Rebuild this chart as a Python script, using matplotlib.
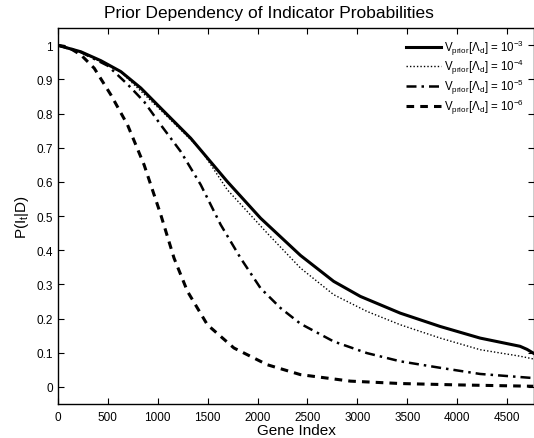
import matplotlib
matplotlib.use("Agg")
import matplotlib.pyplot as plt

plt.rcParams['font.family'] = ['Liberation Sans', 'DejaVu Sans']
plt.rcParams['mathtext.fontset'] = 'custom'
plt.rcParams['mathtext.rm'] = 'Liberation Sans'
plt.rcParams['mathtext.it'] = 'Liberation Sans'
plt.rcParams['mathtext.default'] = 'regular'

# curves (gene index, probability)
x_e3 = [0, 230, 430, 630, 830, 1030, 1330, 1697, 2030, 2430, 2763, 3030, 3430, 3830, 4230, 4630, 4700, 4763]
p_e3 = [1.0, 0.981, 0.955, 0.923, 0.875, 0.816, 0.728, 0.601, 0.494, 0.385, 0.309, 0.265, 0.216, 0.177, 0.143, 0.119, 0.110, 0.099]

x_e4 = [0, 230, 630, 1030, 1430, 1697, 2097, 2430, 2763, 3097, 3430, 3830, 4230, 4630, 4763]
p_e4 = [1.0, 0.981, 0.922, 0.810, 0.695, 0.577, 0.450, 0.348, 0.270, 0.221, 0.182, 0.143, 0.109, 0.090, 0.082]

x_e5 = [0, 230, 500, 700, 863, 1030, 1230, 1430, 1630, 1830, 2030, 2230, 2430, 2763, 3097, 3430, 3830, 4230, 4763]
p_e5 = [1.0, 0.980, 0.940, 0.885, 0.835, 0.767, 0.689, 0.592, 0.475, 0.377, 0.289, 0.231, 0.185, 0.133, 0.099, 0.075, 0.056, 0.038, 0.026]

x_e6 = [0, 100, 230, 363, 530, 697, 863, 1030, 1163, 1297, 1497, 1763, 2097, 2430, 2930, 3430, 4000, 4763]
p_e6 = [1.0, 0.995, 0.972, 0.933, 0.855, 0.767, 0.650, 0.504, 0.377, 0.280, 0.182, 0.114, 0.065, 0.036, 0.017, 0.010, 0.006, 0.002]

labels = [r'$V_{prior}[\Lambda_d]$ = $10^{-3}$',
          r'$V_{prior}[\Lambda_d]$ = $10^{-4}$',
          r'$V_{prior}[\Lambda_d]$ = $10^{-5}$',
          r'$V_{prior}[\Lambda_d]$ = $10^{-6}$']

xticks = list(range(0, 5000, 500))
yticks = [0, 0.1, 0.2, 0.3, 0.4, 0.5, 0.6, 0.7, 0.8, 0.9, 1]
ytick_labels = ['0', '0.1', '0.2', '0.3', '0.4', '0.5', '0.6', '0.7', '0.8', '0.9', '1']

fig = plt.figure(figsize=(5.34, 4.39), dpi=100)
ax = fig.add_axes([0.1086, 0.0774, 0.8914, 0.856])

ax.plot(x_e3, p_e3, color='black', lw=2.2, ls='-', label=labels[0])
ax.plot(x_e4, p_e4, color='black', lw=1.0, ls=(0, (1, 1.5)), label=labels[1])
ax.plot(x_e5, p_e5, color='black', lw=1.8, ls=(0, (4, 2, 1, 2)), label=labels[2])
ax.plot(x_e6, p_e6, color='black', lw=2.2, ls=(0, (2.5, 2)), label=labels[3])

ax.set_xlim(0, 4770)
ax.set_ylim(-0.05, 1.05)
ax.set_xticks(xticks)
ax.set_yticks(yticks)
ax.set_yticklabels(ytick_labels)
ax.tick_params(direction='in', top=True, right=True, labelsize=8.5, length=4, width=0.8,
               colors='black')
ax.tick_params(axis='x', pad=5)
for s in ax.spines.values():
    s.set_linewidth(1.0)

ax.set_xlabel('Gene Index', fontsize=11, labelpad=0)
ax.set_ylabel(r'$P(I_t|D)$', fontsize=11, labelpad=4)
fig.text(0.503, 0.970, 'Prior Dependency of Indicator Probabilities', fontsize=12.5,
         ha='center', va='center')

ax.legend(loc='upper right', frameon=False, fontsize=8.3, handlelength=3.0,
          labelspacing=0.05, handletextpad=0.25, borderaxespad=0.4,
          bbox_to_anchor=(0.998, 1.0))

fig.savefig('out.png', dpi=100)
